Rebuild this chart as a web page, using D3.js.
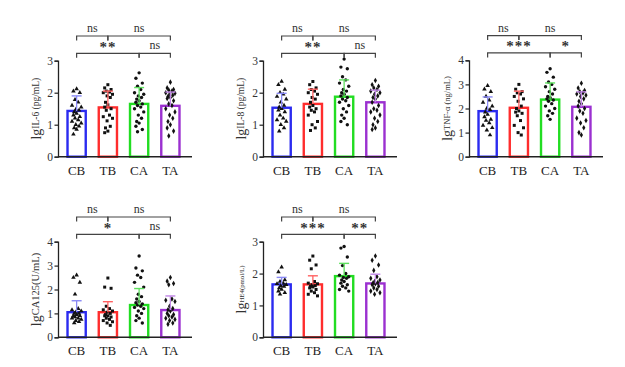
<!DOCTYPE html>
<html><head><meta charset="utf-8">
<script src="https://cdn.jsdelivr.net/npm/d3@7"></script>
<style>body{margin:0;background:#fff}svg{display:block}</style>
</head><body><svg id="c" width="625" height="367"></svg>
<script>
// ---------- DATA ----------
const categories = ["CB","TB","CA","TA"];
const yLabels = ["IL-6 (pg/mL)","IL-8 (pg/mL)","TNF-\u03b1 (ng/mL)","CA125(U/mL)","HE4(pmol/L)"];
const yMax = [3,3,4,4,3];

const il6Means = [1.43,1.54,1.65,1.59];
const il6SD    = [0.47,0.51,0.51,0.43];
const il6Points = [
  [2.12,2.05,2.0,1.78,1.7,1.6,1.55,1.48,1.45,1.4,1.35,1.3,1.25,1.2,1.15,1.1,1.05,1.0,0.95,0.9,0.85,0.7],
  [2.25,2.15,2.1,2.05,2.02,2.0,1.95,1.9,1.85,1.7,1.62,1.55,1.5,1.45,1.3,1.25,1.2,1.12,0.95,0.9,0.8,0.75],
  [2.62,2.45,2.3,2.2,2.1,2.0,1.95,1.9,1.85,1.8,1.75,1.7,1.65,1.6,1.55,1.5,1.4,1.3,1.2,1.1,1.05,0.95,0.85,0.78],
  [2.33,2.15,2.1,2.08,2.05,2.0,1.98,1.95,1.92,1.88,1.85,1.82,1.75,1.65,1.6,1.5,1.4,1.3,1.2,1.1,1.0,0.9,0.8,0.65]
];
const il8Means = [1.53,1.65,1.875,1.70];
const il8SD    = [0.45,0.46,0.525,0.38];
const il8Points = [
  [2.35,2.25,2.1,2.0,1.95,1.88,1.8,1.7,1.6,1.55,1.5,1.45,1.4,1.3,1.2,1.15,1.1,1.0,0.9,0.8],
  [2.35,2.25,2.15,2.1,2.05,2.0,1.95,1.85,1.8,1.7,1.6,1.55,1.5,1.45,1.4,1.3,1.1,1.0,0.9,0.82],
  [3.05,2.8,2.75,2.5,2.4,2.3,2.2,2.1,2.05,2.0,1.95,1.9,1.85,1.8,1.75,1.7,1.6,1.5,1.4,1.3,1.2,1.1,1.0],
  [2.38,2.25,2.2,2.15,2.1,2.05,2.0,1.95,1.9,1.85,1.8,1.7,1.6,1.5,1.45,1.4,1.3,1.2,1.1,1.0,0.9,0.85]
];
const tnfMeans = [1.89,2.03,2.37,2.07];
const tnfSD    = [0.59,0.69,0.69,0.62];
const tnfPoints = [
  [2.95,2.8,2.7,2.5,2.35,2.25,2.1,2.0,1.95,1.85,1.75,1.65,1.55,1.5,1.4,1.3,1.2,1.1,0.9],
  [3.0,2.8,2.7,2.65,2.6,2.5,2.4,2.3,2.1,2.0,1.9,1.85,1.8,1.7,1.5,1.3,1.2,1.0,0.9],
  [3.65,3.5,3.3,3.1,3.0,2.9,2.8,2.7,2.6,2.5,2.45,2.4,2.35,2.3,2.2,2.1,2.0,1.9,1.8,1.7,1.55],
  [3.05,2.85,2.75,2.7,2.65,2.6,2.55,2.5,2.4,2.3,2.2,2.1,2.0,1.9,1.8,1.6,1.5,1.4,1.2,1.0,0.9]
];
const ca125Means = [1.05,1.05,1.35,1.14];
const ca125SD    = [0.48,0.44,0.69,0.59];
const ca125Points = [
  [2.6,2.5,2.3,1.8,1.2,1.15,1.1,1.05,1.0,1.0,0.95,0.9,0.9,0.85,0.8,0.8,0.75,0.7,0.65,0.6],
  [2.48,2.1,2.05,1.3,1.2,1.15,1.1,1.05,1.0,0.95,0.9,0.9,0.85,0.8,0.75,0.7,0.65,0.6,0.5],
  [3.4,2.9,2.78,2.6,2.5,2.3,2.1,1.8,1.7,1.6,1.5,1.45,1.4,1.35,1.3,1.25,1.2,1.1,1.0,0.9,0.8,0.7,0.6],
  [2.5,2.35,2.25,2.2,1.6,1.55,1.5,1.3,1.2,1.15,1.1,1.0,0.95,0.9,0.85,0.8,0.75,0.7,0.6,0.55]
];
const he4Means = [1.66,1.66,1.92,1.69];
const he4SD    = [0.22,0.27,0.40,0.29];
const he4Points = [
  [2.2,2.05,1.8,1.75,1.7,1.68,1.65,1.62,1.6,1.55,1.5,1.45,1.4,1.35],
  [2.55,2.42,2.27,2.15,1.75,1.7,1.68,1.65,1.62,1.6,1.58,1.55,1.5,1.45,1.4,1.35,1.3],
  [2.85,2.8,2.52,2.25,2.0,1.95,1.9,1.88,1.85,1.8,1.75,1.7,1.65,1.6,1.55,1.5,1.45],
  [2.55,2.42,2.27,2.1,1.9,1.85,1.8,1.75,1.72,1.7,1.68,1.65,1.6,1.55,1.5,1.45,1.4,1.35]
];
// significance comparisons: [from, to, label, row]
const il6Sig   = [["CB","TB","ns",0],["TB","TA","ns",0],["CB","CA","**",1],["CA","TA","ns",1]];
const il8Sig   = [["CB","TB","ns",0],["TB","TA","ns",0],["CB","CA","**",1],["CA","TA","ns",1]];
const tnfSig   = [["CB","TB","ns",0],["TB","TA","ns",0],["CB","CA","***",1],["CA","TA","*",1]];
const ca125Sig = [["CB","TB","ns",0],["TB","TA","ns",0],["CB","CA","*",1],["CA","TA","ns",1]];
const he4Sig   = [["CB","TB","ns",0],["TB","TA","ns",0],["CB","CA","***",1],["CA","TA","**",1]];

// ---------- STYLE / LAYOUT ----------
const barColors = ["#2b2bf0","#ff2d2d","#22dd22","#9b30d0"];
const errColors = ["#8a8af5","#ff6262","#5ee05e","#c086e6"];
const layout = [
  {ax:58,  y0:156.7, yt:60.7, lab:9.5},
  {ax:263, y0:156.7, yt:60.7, lab:9.5},
  {ax:469, y0:156.7, yt:60.3, lab:8.5},
  {ax:58,  y0:337.3, yt:241.7, lab:10.5},
  {ax:263, y0:337.3, yt:241.7, lab:6.8}
];
const panels = [
  [il6Means, il6SD, il6Points, il6Sig],
  [il8Means, il8SD, il8Points, il8Sig],
  [tnfMeans, tnfSD, tnfPoints, tnfSig],
  [ca125Means, ca125SD, ca125Points, ca125Sig],
  [he4Means, he4SD, he4Points, he4Sig]
];
const serif = "'Liberation Serif','Times New Roman',serif";
const svg = d3.select("#c");
svg.append("rect").attr("width",625).attr("height",367).attr("fill","#fff");
const jit = [0,-3.2,3.2,-1.6,1.6,-4.6,4.6,-0.8,2.4,-2.4];

panels.forEach((p,pi)=>{
  const [means, sds, pts, sig] = p;
  const L = layout[pi];
  const g = svg.append("g");
  const x = d3.scaleBand().domain(categories).range([L.ax+3, L.ax+128]).paddingInner(0.34).paddingOuter(0.17);
  const y = d3.scaleLinear().domain([0, yMax[pi]]).range([L.y0, L.yt]);
  const bw = x.bandwidth();

  // y axis
  const ya = g.append("g").attr("transform",`translate(${L.ax},0)`)
    .call(d3.axisLeft(y).ticks(yMax[pi]).tickSizeOuter(0).tickSize(3.5).tickPadding(1.5).tickFormat(d3.format("d")));
  ya.select(".domain").attr("stroke","#222").attr("stroke-width",1.3);
  ya.selectAll(".tick line").attr("stroke","#222").attr("stroke-width",1.2);
  ya.selectAll(".tick text").attr("font-family",serif).attr("font-size",11.5).attr("fill","#333");

  // bars
  g.selectAll("rect.bar").data(means).join("rect")
    .attr("x",(d,i)=>x(categories[i])+1.2).attr("width",bw-2.4)
    .attr("y",d=>y(d)).attr("height",d=>L.y0-y(d))
    .attr("fill","#fff").attr("stroke",(d,i)=>barColors[i]).attr("stroke-width",2.4);

  // points
  pts.forEach((arr,gi)=>{
    const cx = x(categories[gi]) + bw/2;
    g.selectAll(null).data(arr).join("path")
      .attr("d", d3.symbol().type([d3.symbolTriangle,d3.symbolSquare,d3.symbolCircle,d3.symbolDiamond][gi]).size(9))
      .attr("transform",(d,i)=>`translate(${cx + jit[i%jit.length]},${y(d)})`)
      .attr("fill","#111");
  });

  // error bars (upper)
  means.forEach((m,i)=>{
    const cx = x(categories[i]) + bw/2;
    g.append("line").attr("x1",cx).attr("x2",cx).attr("y1",y(m)).attr("y2",y(m+sds[i]))
      .attr("stroke",errColors[i]).attr("stroke-width",1.3);
    g.append("line").attr("x1",cx-5).attr("x2",cx+5).attr("y1",y(m+sds[i])).attr("y2",y(m+sds[i]))
      .attr("stroke",errColors[i]).attr("stroke-width",1.4);
  });

  // x axis
  g.append("line").attr("x1",L.ax).attr("x2",L.ax+134).attr("y1",L.y0).attr("y2",L.y0)
    .attr("stroke","#222").attr("stroke-width",1.4);
  g.selectAll("text.xl").data(categories).join("text")
    .attr("x",d=>x(d)+bw/2).attr("y",L.y0+18).attr("text-anchor","middle")
    .attr("font-family",serif).attr("font-size",13).attr("fill","#222").text(d=>d);

  // y label
  const t = g.append("text")
    .attr("transform",`translate(${L.ax-17},${(L.y0+L.yt)/2}) rotate(-90)`)
    .attr("text-anchor","middle").attr("font-family",serif).attr("fill","#333");
  t.append("tspan").attr("font-size",14).text("lg");
  t.append("tspan").attr("font-size",L.lab).attr("dy",-2.5).text(yLabels[pi]);

  // significance brackets
  const rowY = [L.yt-24.7, L.yt-7.4];
  sig.forEach(([a,b,lab,row])=>{
    const xa = x(a)+bw/2, xb = x(b)+bw/2, yy = rowY[row];
    g.append("path").attr("d",`M${xa},${yy+4.5}V${yy}H${xb}V${yy+4.5}`)
      .attr("fill","none").attr("stroke","#444").attr("stroke-width",1.2);
    const isNs = lab==="ns";
    g.append("text").attr("x",(xa+xb)/2).attr("y", isNs ? yy-4 : yy-1.5)
      .attr("text-anchor","middle").attr("font-family",serif)
      .attr("font-size", isNs ? 12 : 15).attr("font-weight", isNs ? "normal" : "bold")
      .attr("letter-spacing", isNs ? 0 : 1)
      .attr("fill","#333").text(lab);
  });
});
</script></body></html>
